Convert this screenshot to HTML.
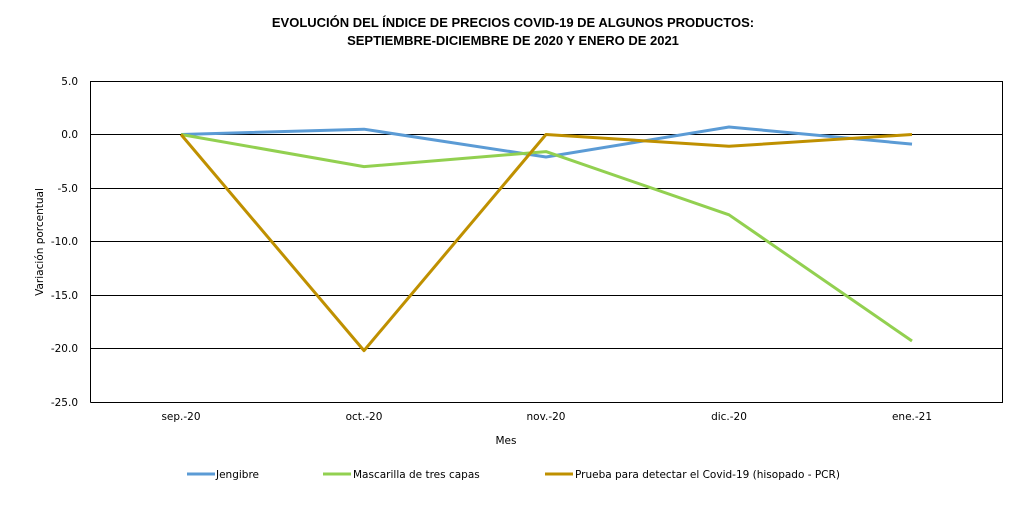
<!DOCTYPE html>
<html><head><meta charset="utf-8"><style>
html,body{margin:0;padding:0;background:#fff;}
svg{display:block;font-family:"Liberation Sans",Arial,sans-serif;}
.s{font-family:"DejaVu Sans",sans-serif;}
</style></head><body>
<svg width="1026" height="513" viewBox="0 0 1026 513" xmlns="http://www.w3.org/2000/svg">
<rect width="1026" height="513" fill="#fff"/>
<text x="513" y="27" text-anchor="middle" font-size="13" font-weight="bold">EVOLUCIÓN DEL ÍNDICE DE PRECIOS COVID-19 DE ALGUNOS PRODUCTOS:</text>
<text x="513" y="45" text-anchor="middle" font-size="13" font-weight="bold">SEPTIEMBRE-DICIEMBRE DE 2020 Y ENERO DE 2021</text>
<g stroke="#000" stroke-width="1" fill="none">
<line x1="90.5" y1="81.5" x2="1003" y2="81.5"/>
<line x1="90.5" y1="134.5" x2="1003" y2="134.5"/>
<line x1="90.5" y1="188.5" x2="1003" y2="188.5"/>
<line x1="90.5" y1="241.5" x2="1003" y2="241.5"/>
<line x1="90.5" y1="295.5" x2="1003" y2="295.5"/>
<line x1="90.5" y1="348.5" x2="1003" y2="348.5"/>
<line x1="90.5" y1="402.5" x2="1003" y2="402.5"/>
<line x1="90.5" y1="81" x2="90.5" y2="402.5"/>
<line x1="1002.5" y1="81" x2="1002.5" y2="402.5"/>
</g>
<g class="s" font-size="10.5" text-anchor="end">
<text x="78" y="85">5.0</text>
<text x="78" y="138">0.0</text>
<text x="78" y="192">-5.0</text>
<text x="78" y="245">-10.0</text>
<text x="78" y="299">-15.0</text>
<text x="78" y="352">-20.0</text>
<text x="78" y="406">-25.0</text>
</g>
<g class="s" font-size="10.5" text-anchor="middle">
<text x="181" y="420">sep.-20</text>
<text x="364" y="420">oct.-20</text>
<text x="546" y="420">nov.-20</text>
<text x="729" y="420">dic.-20</text>
<text x="912" y="420">ene.-21</text>
<text x="506" y="444">Mes</text>
</g>
<text class="s" transform="translate(43,242) rotate(-90)" font-size="10.5" text-anchor="middle">Variación porcentual</text>
<g fill="none" stroke-width="3" stroke-linejoin="round">
<polyline stroke="#5b9bd5" points="181,134.5 364,129.2 546,157 729,127 912,144.1"/>
<polyline stroke="#92d050" points="181,134.5 364,166.6 546,151.6 729,214.8 912,341"/>
<polyline stroke="#bf9000" points="181,134.5 364,350.6 546,134.5 729,146.3 912,134.5"/>
</g>
<g stroke-width="3">
<line x1="187" y1="474" x2="215" y2="474" stroke="#5b9bd5"/>
<line x1="323" y1="474" x2="351" y2="474" stroke="#92d050"/>
<line x1="545" y1="474" x2="573" y2="474" stroke="#bf9000"/>
</g>
<g class="s" font-size="10.5">
<text x="216" y="478">Jengibre</text>
<text x="353" y="478">Mascarilla de tres capas</text>
<text x="575" y="478">Prueba para detectar el Covid-19 (hisopado - PCR)</text>
</g>
</svg>
</body></html>
